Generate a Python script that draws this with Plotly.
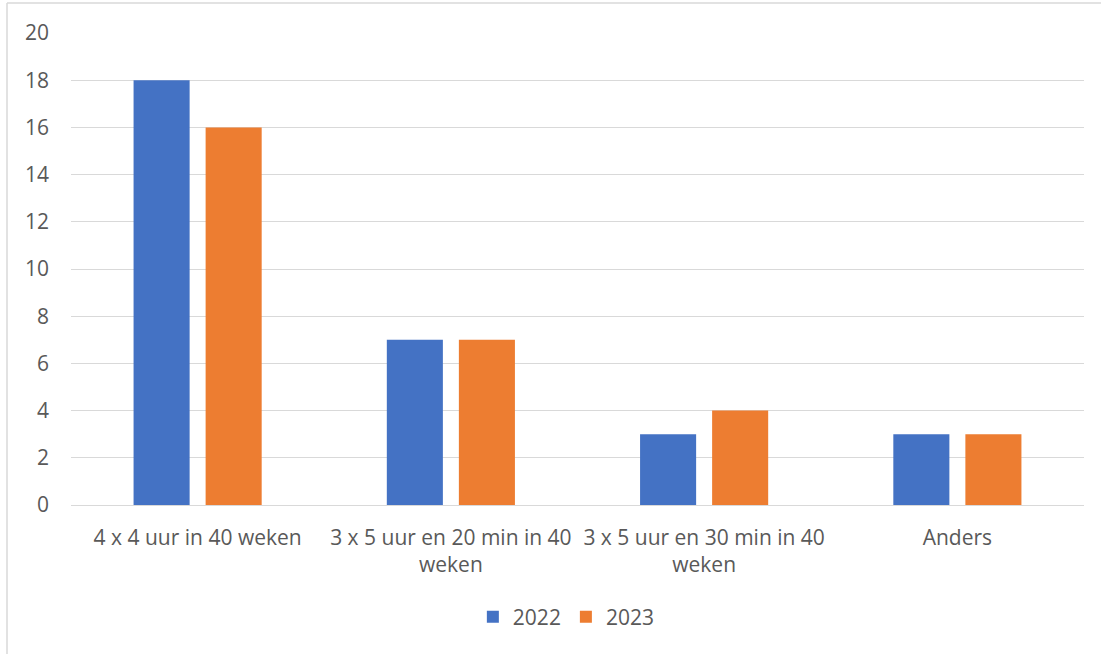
import plotly.graph_objects as go

categories = ["4 x 4 uur in 40 weken", "3 x 5 uur en 20 min in 40<br>weken",
              "3 x 5 uur en 30 min in 40<br>weken", "Anders"]
values_2022 = [18, 7, 3, 3]
values_2023 = [16, 7, 4, 3]
series_names = ["2022", "2023"]
colors = ["#4472C4", "#ED7D31"]

# plot area in screen pixels: x 71..1084, y 33..505
W, H = 1101, 654
L, T = 71, 33
pw, ph = 1013, 472
R = W - L - pw
B = H - T - ph
FS = 21

fig = go.Figure()
for name, vals, c in zip(series_names, [values_2022, values_2023], colors):
    fig.add_trace(go.Bar(x=categories, y=vals, name=name, marker_color=c,
                         marker_line_width=0))

fig.update_layout(
    width=W, height=H,
    margin=dict(l=L, r=R, t=T, b=B, autoexpand=False),
    paper_bgcolor="white", plot_bgcolor="white",
    font=dict(family="Open Sans", size=FS, color="#595959"),
    barmode="group", bargap=0.431, bargroupgap=0.222,
    showlegend=True,
    legend=dict(orientation="h", x=0.489, xanchor="center", y=-(617 - 505) / ph,
                yanchor="middle", font=dict(size=FS, color="#595959"),
                itemwidth=30, traceorder="normal"),
    xaxis=dict(showgrid=False, showline=False, ticks="", tickfont=dict(size=FS),
               ticklabelstandoff=18),
    yaxis=dict(range=[0, 20], dtick=2, showgrid=True, gridcolor="#d9d9d9",
               gridwidth=1.3, zeroline=True, zerolinecolor="#d9d9d9",
               zerolinewidth=1.3, showline=False, ticks="", ticklabelstandoff=21,
               tickfont=dict(size=FS)),
)

# chart frame (left and top borders), positions in screen pixels
fx = (7 - L) / pw
fy_top = 1 + (T - 3) / ph
fy_bot = -(H - 505 + 10) / ph
fig.add_shape(type="line", xref="paper", yref="paper", x0=fx, x1=fx,
              y0=fy_bot, y1=fy_top, line=dict(color="#d9d9d9", width=1.5))
fig.add_shape(type="line", xref="paper", yref="paper", x0=fx, x1=(W + 10 - L) / pw,
              y0=fy_top, y1=fy_top, line=dict(color="#d9d9d9", width=1.5))

fig.write_html("out.html", config={"displayModeBar": False},
               post_script="document.body.style.margin='0';document.body.style.overflow='hidden';")
